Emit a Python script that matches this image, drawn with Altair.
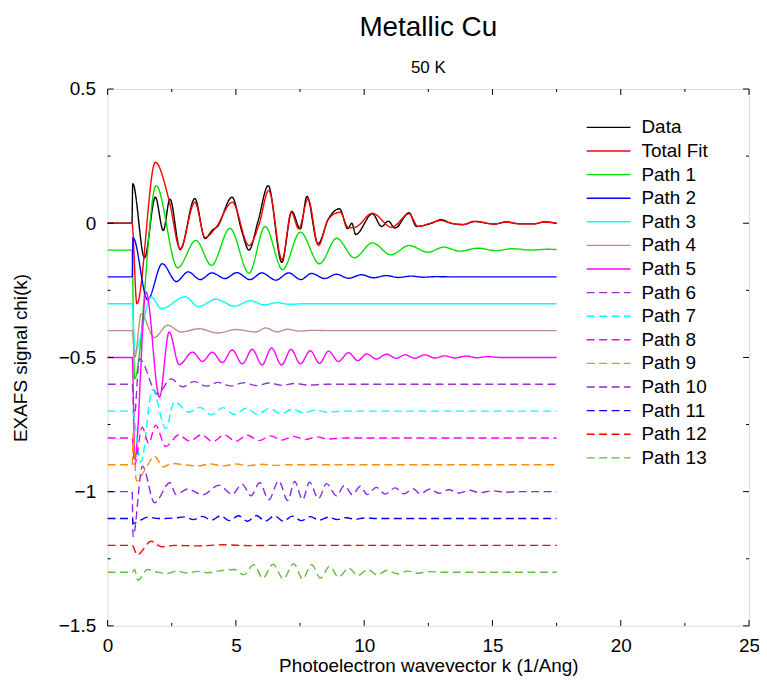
import altair as alt
import pandas as pd

SERIES = ["Data", "Total Fit", "Path 1", "Path 2", "Path 3", "Path 4", "Path 5",
          "Path 6", "Path 7", "Path 8", "Path 9", "Path 10", "Path 11", "Path 12", "Path 13"]
COLORS = ["#000000", "#ff0000", "#00e000", "#0000ff", "#00ffff", "#bc8f8f", "#ff00ff",
          "#9932cc", "#00ffff", "#ff00ff", "#ff8c00", "#8a2be2", "#0000ff", "#ff0000", "#5cbf3a"]
SOLID = [1, 0]
DASH = [8, 4.5]
DASHES = [SOLID] * 7 + [DASH] * 8

DATA_K = [0, 0.95, 0.98, 1.44, 1.86, 2.17, 2.43, 2.83, 3.40, 3.80, 4.07, 4.28, 4.85, 5.24, 5.51, 5.86,
          6.26, 6.79, 7.18, 7.51, 7.77, 8.20, 8.61, 9.04, 9.36, 9.52, 9.67, 10.32, 10.68, 10.94, 11.20,
          11.75, 12.04, 12.62, 13.00, 13.39, 13.85, 14.30, 15.08, 15.53, 16.06, 16.63, 17.02, 17.5]
DATA_CHI = [0, 0, 0.147, -0.129, 0.097, -0.027, 0.09, -0.098, 0.092, -0.057, -0.027, -0.012, 0.097,
            -0.033, -0.100, 0.006, 0.140, -0.146, 0.044, -0.021, 0.100, -0.077, 0.017, 0.054, -0.020,
            0.000, -0.042, 0.035, -0.012, 0.008, -0.018, 0.039, -0.012, 0.000, 0.013, 0.000, -0.005,
            0.007, -0.003, 0.005, -0.002, -0.002, 0.005, 0.0]

FIT_K = [0, 0.95, 1.14, 1.86, 2.40, 2.83, 3.40, 3.80, 4.22, 4.86, 5.51, 5.90, 6.28, 6.80, 7.16, 7.45,
         7.81, 8.22, 8.60, 9.06, 9.39, 9.65, 10.32, 11.07, 11.75, 12.10, 12.50, 13.00, 13.39, 13.85,
         14.30, 15.08, 15.53, 16.06, 16.63, 17.02, 17.5]
FIT_CHI = [0, 0, -0.300, 0.227, 0.084, -0.095, 0.078, -0.053, -0.016, 0.078, -0.083, -0.005, 0.122,
           -0.136, 0.041, -0.021, 0.091, -0.083, 0.015, 0.041, -0.017, -0.015, 0.037, -0.015, 0.035,
           -0.012, -0.002, 0.010, 0.0, -0.005, 0.006, -0.003, 0.004, -0.002, -0.002, 0.004, 0.0]

P1_K = [0, 0.95, 1.05, 1.89, 2.73, 3.44, 4.05, 4.77, 5.51, 6.14, 6.82, 7.51, 8.26, 8.93, 9.62, 10.32,
        11.04, 11.75, 12.49, 13.10, 13.72, 14.43, 15.14, 15.79, 16.50, 17.14, 17.5]
P1_CHI = [-0.1, -0.1, -0.58, 0.140, -0.166, -0.064, -0.157, -0.019, -0.186, -0.012, -0.173, -0.033,
          -0.151, -0.056, -0.129, -0.073, -0.118, -0.083, -0.108, -0.089, -0.104, -0.093, -0.102,
          -0.095, -0.100, -0.097, -0.098]

P2_K = [0, 0.96, 0.99, 1.56, 2.13, 2.68, 3.14, 3.61, 4.07, 4.58, 5.04, 5.55, 6.01, 6.56, 7.06, 7.53,
        7.95, 8.46, 8.92, 9.39, 9.89, 10.36, 10.86, 11.33, 11.83, 12.30, 12.80, 13.5, 17.5]
P2_CHI = [-0.2, -0.2, -0.054, -0.285, -0.151, -0.217, -0.181, -0.210, -0.185, -0.206, -0.184, -0.210,
          -0.185, -0.212, -0.185, -0.210, -0.187, -0.206, -0.190, -0.205, -0.192, -0.203, -0.195,
          -0.202, -0.197, -0.201, -0.199, -0.2, -0.2]

P3_K = [0, 0.96, 1.06, 1.70, 2.10, 3.03, 3.54, 4.22, 4.93, 5.57, 6.10, 6.60, 7.10, 7.7, 17.5]
P3_CHI = [-0.3, -0.3, -0.48, -0.275, -0.318, -0.274, -0.311, -0.283, -0.309, -0.289, -0.304, -0.296,
          -0.302, -0.3, -0.3]

P4_K = [0, 0.96, 1.06, 1.31, 1.82, 2.34, 2.86, 3.57, 4.28, 5.00, 5.77, 6.16, 6.61, 6.99, 7.5, 8.0, 8.6, 17.5]
P4_CHI = [-0.4, -0.4, -0.50, -0.337, -0.426, -0.380, -0.405, -0.393, -0.409, -0.396, -0.405, -0.390,
          -0.405, -0.395, -0.402, -0.399, -0.4, -0.4]

P5_K = [0, 0.96, 1.06, 1.50, 2.02, 2.40, 2.79, 3.31, 3.70, 4.08, 4.47, 4.86, 5.25, 5.64, 6.02, 6.39,
        6.78, 7.15, 7.51, 7.90, 8.26, 8.61, 9.00, 9.39, 9.75, 10.10, 10.48, 10.87, 11.26, 11.59, 11.97,
        12.36, 12.75, 13.14, 13.53, 13.98, 14.40, 14.80, 15.3, 17.5]
P5_CHI = [-0.5, -0.5, -0.88, -0.256, -0.648, -0.405, -0.527, -0.480, -0.515, -0.480, -0.519, -0.472,
          -0.524, -0.470, -0.528, -0.465, -0.528, -0.470, -0.524, -0.475, -0.522, -0.477, -0.515,
          -0.482, -0.512, -0.487, -0.506, -0.488, -0.503, -0.490, -0.503, -0.490, -0.502, -0.494,
          -0.502, -0.495, -0.501, -0.497, -0.5, -0.5]

P6_K = [0, 0.96, 1.04, 1.24, 1.95, 2.47, 2.92, 3.37, 3.85, 4.30, 4.80, 5.30, 5.80, 6.30, 6.80, 7.30,
        7.80, 8.5, 17.5]
P6_CHI = [-0.6, -0.6, -0.72, -0.505, -0.636, -0.580, -0.609, -0.590, -0.607, -0.593, -0.606, -0.594,
          -0.605, -0.595, -0.604, -0.597, -0.603, -0.6, -0.6]

P7_K = [0, 0.96, 1.30, 1.75, 2.27, 2.60, 3.17, 3.60, 4.05, 4.50, 4.95, 5.40, 5.85, 6.30, 6.75, 7.20,
        7.65, 8.10, 8.55, 9.2, 17.5]
P7_CHI = [-0.7, -0.7, -0.89, -0.62, -0.765, -0.665, -0.704, -0.686, -0.714, -0.687, -0.713, -0.689,
          -0.712, -0.690, -0.710, -0.693, -0.706, -0.696, -0.704, -0.7, -0.7]

P8_K = [0, 0.96, 1.05, 1.35, 1.60, 1.87, 2.26, 2.77, 3.20, 3.65, 4.10, 4.55, 5.00, 5.45, 5.90, 6.35,
        6.80, 7.25, 7.70, 8.15, 8.60, 9.3, 17.5]
P8_CHI = [-0.8, -0.8, -0.90, -0.76, -0.82, -0.752, -0.832, -0.789, -0.812, -0.788, -0.813, -0.789,
          -0.812, -0.790, -0.810, -0.792, -0.808, -0.794, -0.806, -0.796, -0.804, -0.8, -0.8]

P9_K = [0, 0.96, 1.00, 1.12, 1.45, 1.83, 2.16, 2.50, 3.00, 3.50, 4.00, 4.50, 5.00, 5.50, 6.00, 6.50, 7.0, 17.5]
P9_CHI = [-0.9, -0.9, -0.78, -0.96, -0.92, -0.868, -0.908, -0.895, -0.900, -0.904, -0.897, -0.904,
          -0.897, -0.903, -0.898, -0.902, -0.9, -0.9]

P10_K = [0, 0.96, 0.99, 1.36, 1.83, 2.43, 2.67, 3.12, 3.70, 4.34, 4.86, 5.24, 5.59, 5.93, 6.28, 6.67,
         7.02, 7.29, 7.60, 7.87, 8.22, 8.53, 8.92, 9.23, 9.54, 9.85, 10.12, 10.47, 10.82, 11.21, 11.56,
         11.91, 12.18, 12.57, 12.92, 13.30, 13.70, 14.10, 14.50, 15.00, 15.50, 16.0, 17.5]
P10_CHI = [-1.0, -1.0, -1.167, -0.905, -1.041, -0.967, -1.011, -0.990, -1.012, -0.976, -1.010, -0.972,
           -1.015, -0.967, -1.030, -0.960, -1.033, -0.962, -1.030, -0.965, -1.026, -0.970, -1.015,
           -0.977, -1.011, -0.980, -1.011, -0.984, -1.009, -0.986, -1.008, -0.989, -1.008, -0.990,
           -1.006, -0.993, -1.005, -0.995, -1.004, -0.997, -1.002, -1.0, -1.0]

P11_K = [0, 0.96, 1.00, 1.30, 1.55, 2.00, 2.60, 3.00, 3.35, 3.70, 4.05, 4.40, 4.75, 5.10, 5.45, 5.80,
         6.15, 6.50, 6.85, 7.20, 7.55, 7.90, 8.25, 8.60, 8.95, 9.30, 9.65, 10.0, 10.6, 17.5]
P11_CHI = [-1.1, -1.1, -1.118, -1.105, -1.095, -1.100, -1.098, -1.094, -1.104, -1.092, -1.106, -1.090,
           -1.108, -1.090, -1.110, -1.089, -1.110, -1.090, -1.110, -1.091, -1.108, -1.093, -1.106,
           -1.095, -1.104, -1.097, -1.103, -1.098, -1.1, -1.1]

P12_K = [0, 0.96, 1.15, 1.70, 2.10, 2.60, 3.50, 4.50, 5.50, 6.5, 17.5]
P12_CHI = [-1.2, -1.2, -1.235, -1.185, -1.205, -1.200, -1.202, -1.198, -1.201, -1.2, -1.2]

P13_K = [0, 0.96, 1.05, 1.18, 1.56, 1.95, 2.30, 2.70, 3.10, 3.50, 3.90, 4.30, 4.95, 5.30, 5.70, 6.05,
         6.45, 6.85, 7.25, 7.60, 7.95, 8.30, 8.65, 9.00, 9.40, 9.75, 10.15, 10.50, 10.90, 11.30, 11.70,
         12.10, 12.50, 13.0, 17.5]
P13_CHI = [-1.3, -1.3, -1.29, -1.33, -1.29, -1.30, -1.305, -1.296, -1.303, -1.297, -1.302, -1.296,
           -1.290, -1.310, -1.272, -1.322, -1.270, -1.325, -1.268, -1.325, -1.272, -1.322, -1.278,
           -1.318, -1.285, -1.313, -1.290, -1.310, -1.293, -1.306, -1.296, -1.304, -1.298, -1.3, -1.3]

K_LISTS = [DATA_K, FIT_K, P1_K, P2_K, P3_K, P4_K, P5_K, P6_K, P7_K, P8_K, P9_K, P10_K, P11_K, P12_K, P13_K]
CHI_LISTS = [DATA_CHI, FIT_CHI, P1_CHI, P2_CHI, P3_CHI, P4_CHI, P5_CHI, P6_CHI, P7_CHI, P8_CHI,
             P9_CHI, P10_CHI, P11_CHI, P12_CHI, P13_CHI]

X_MAJOR = [0, 5, 10, 15, 20, 25]
X_MINOR = [2.5, 7.5, 12.5, 17.5, 22.5]
Y_MAJOR = [-1.5, -1, -0.5, 0, 0.5]
Y_MINOR = [-1.25, -0.75, -0.25, 0.25]

rows = []
for name, ks, cs in zip(SERIES, K_LISTS, CHI_LISTS):
    for k, c in zip(ks, cs):
        rows.append({"series": name, "k": k, "chi": c})
df = pd.DataFrame(rows)

W, H = 644, 539
FONT = "Liberation Sans"
xs = alt.Scale(domain=[0, 25], nice=False, zero=False)
ys = alt.Scale(domain=[-1.5, 0.5], nice=False, zero=False)

XAXIS = alt.Axis(values=X_MAJOR, format="~g", ticks=False, domain=False, grid=False,
                 labelFontSize=19, labelFont=FONT, labelColor="black", labelPadding=11,
                 labelFlush=False, title="Photoelectron wavevector k (1/Ang)", titleFontSize=19,
                 titleFont=FONT, titleFontWeight="normal", titleColor="black", titlePadding=1)
YAXIS = alt.Axis(values=Y_MAJOR, format="~g", ticks=False, domain=False, grid=False,
                 labelFontSize=19, labelFont=FONT, labelColor="black", labelPadding=12,
                 labelFlush=False, title="EXAFS signal chi(k)", titleFontSize=19, titleFont=FONT,
                 titleFontWeight="normal", titleColor="black", titlePadding=28)

legend = alt.Legend(title=None, orient="none", legendX=480, legendY=29, symbolType="stroke",
                    symbolSize=1936, symbolStrokeWidth=1.4, clipHeight=19, rowPadding=3.7,
                    labelFontSize=19, labelFont=FONT, labelColor="black", labelOffset=10, padding=0)

lines = alt.Chart(df).mark_line(strokeWidth=1.4, interpolate="monotone").encode(
    x=alt.X("k:Q", scale=xs, axis=XAXIS),
    y=alt.Y("chi:Q", scale=ys, axis=YAXIS),
    color=alt.Color("series:N", scale=alt.Scale(domain=SERIES, range=COLORS), legend=legend),
    strokeDash=alt.StrokeDash("series:N", scale=alt.Scale(domain=SERIES, range=DASHES), legend=legend),
)


def xticks(vals, top, length):
    d = pd.DataFrame({"k": vals})
    y0 = 0 if top else H
    y1 = length if top else H - length
    return alt.Chart(d).mark_rule(color="black", strokeWidth=1).encode(
        x=alt.X("k:Q", scale=xs, axis=XAXIS), y=alt.value(y0), y2=alt.value(y1))


def yticks(vals, left, length):
    d = pd.DataFrame({"chi": vals})
    x0 = 0 if left else W
    x1 = length if left else W - length
    return alt.Chart(d).mark_rule(color="black", strokeWidth=1).encode(
        y=alt.Y("chi:Q", scale=ys, axis=YAXIS), x=alt.value(x0), x2=alt.value(x1))


ticks = [xticks(X_MAJOR, True, 6), xticks(X_MAJOR, False, 6), xticks(X_MINOR, True, 3),
         xticks(X_MINOR, False, 3), yticks(Y_MAJOR, True, 6), yticks(Y_MAJOR, False, 6),
         yticks(Y_MINOR, True, 3), yticks(Y_MINOR, False, 3)]

chart = alt.layer(lines, *ticks).properties(
    width=W, height=H,
    autosize=alt.AutoSizeParams(type="none"),
    padding={"left": 100, "top": 80, "right": 10, "bottom": 54},
    title=alt.TitleParams(text="Metallic Cu", subtitle="50 K", fontSize=28, fontWeight="normal",
                          font=FONT, color="black", subtitleFontSize=17, subtitleFont=FONT,
                          subtitleColor="black", anchor="middle", offset=4, subtitlePadding=18),
).configure_view(stroke="black", strokeWidth=1).configure(font=FONT)

chart.save("out.html", embed_options={"renderer": "svg", "actions": False})
